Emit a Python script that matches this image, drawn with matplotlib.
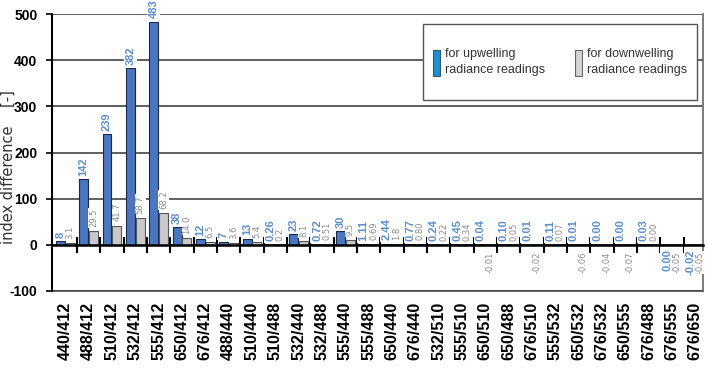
import numpy as np
import matplotlib
matplotlib.use("Agg")
import matplotlib.pyplot as plt
from matplotlib.patches import Patch, Rectangle

# Band ratio pairs on the x axis
categories = ["440/412", "488/412", "510/412", "532/412", "555/412", "650/412",
              "676/412", "488/440", "510/440", "510/488", "532/440", "532/488",
              "555/440", "555/488", "650/440", "676/440", "532/510", "555/510",
              "650/510", "650/488", "676/510", "555/532", "650/532", "676/532",
              "650/555", "676/488", "676/555", "676/650"]

# index difference for upwelling radiance readings
up_vals = [8, 142, 239, 382, 483, 38, 12, 7, 13, 0.26, 23, 0.72, 30, 1.11,
           2.44, 0.77, 0.24, 0.45, 0.04, 0.10, 0.01, 0.11, 0.01, 0.004,
           0.004, 0.03, -0.004, -0.02]
up_labels = ["8", "142", "239", "382", "483", "38", "12", "7", "13", "0.26",
             "23", "0.72", "30", "1.11", "2.44", "0.77", "0.24", "0.45", "0.04",
             "0.10", "0.01", "0.11", "0.01", "0.00", "0.00", "0.03", "0.00",
             "-0.02"]

# index difference for downwelling radiance readings
down_vals = [3.1, 29.5, 41.7, 58.7, 68.2, 14.0, 6.5, 3.6, 5.4, 0.2, 8.1, 0.51,
             9.5, 0.69, 1.8, 0.80, 0.22, 0.34, -0.01, 0.05, -0.02, 0.07, -0.06,
             -0.04, -0.07, 0.004, -0.05, -0.05]
down_labels = ["3.1", "29.5", "41.7", "58.7", "68.2", "14.0", "6.5", "3.6",
               "5.4", "0.2", "8.1", "0.51", "9.5", "0.69", "1.8", "0.80", "0.22",
               "0.34", "-0.01", "0.05", "-0.02", "0.07", "-0.06", "-0.04",
               "-0.07", "0.00", "-0.05", "-0.05"]

yticks = [-100, 0, 100, 200, 300, 400, 500]

font = ["Liberation Sans", "DejaVu Sans"]

up_color = "#4876c2"
up_text = "#5b8fd4"
down_color = "#c9c9c9"
down_text = "#8a8a8a"

fig = plt.figure(figsize=(7.08, 3.70), dpi=100)
ax = fig.add_axes([52 / 708, 79 / 370, 651 / 708, 277 / 370])

x = np.arange(len(categories))
w = 0.38
ax.bar(x - 0.21, up_vals, w, color=up_color, edgecolor="#1c2a4a", linewidth=0.8, zorder=2)
ax.bar(x + 0.21, down_vals, w, color=down_color, edgecolor="#555555", linewidth=0.8, zorder=2)

# value labels, above positive bars and below negative ones
for xi, v, t in zip(x, up_vals, up_labels):
    off = 2.5 if v >= 0 else -3
    ax.annotate(t, (xi - 0.21, v), xytext=(0, off), textcoords="offset points",
                rotation=90, ha="center", va="bottom" if v >= 0 else "top",
                fontsize=8, fontweight="bold", color=up_text, family=font,
                bbox=dict(boxstyle="square,pad=0.15", fc="white", ec="none"), zorder=4)
for xi, v, t in zip(x, down_vals, down_labels):
    off = 3 if v >= 0 else -5
    ax.annotate(t, (xi + 0.21, v), xytext=(0, off), textcoords="offset points",
                rotation=90, ha="center", va="bottom" if v >= 0 else "top",
                fontsize=6, color=down_text, family="DejaVu Sans",
                bbox=dict(boxstyle="square,pad=0.1", fc="white", ec="none"), zorder=4)

ax.set_xlim(-0.57, 27.33)
ax.set_ylim(-100, 500)
ax.set_yticks(yticks)
ax.set_yticklabels([str(t) for t in yticks], fontsize=10, fontweight="bold", family=font)
ax.tick_params(axis="y", direction="out", length=4, width=1.2, pad=6.5)
ax.yaxis.grid(True, color="#444444", linewidth=1.2)
ax.set_axisbelow(True)

# zero line carries the tick marks between the pairs
ax.spines["bottom"].set_position(("data", 0))
ax.spines["bottom"].set_linewidth(1.8)
ax.spines["bottom"].set_color("black")
ax.set_xticks(x[:-1] + 0.5)
ax.tick_params(axis="x", direction="inout", length=11, width=1.5, labelbottom=False)
ax.spines["left"].set_linewidth(1.5)
ax.spines["top"].set_visible(False)
ax.spines["right"].set_color("#666666")
ax.spines["right"].set_linewidth(1.2)

# category names sit at the bottom of the frame
sec = ax.secondary_xaxis("bottom")
sec.set_xticks(x)
sec.set_xticklabels(categories, rotation=90, fontsize=11.5, fontweight="bold", family=font)
sec.tick_params(length=0, pad=8)
sec.spines["bottom"].set_color("#444444")
sec.spines["bottom"].set_linewidth(1.2)

ax.set_ylabel("index difference    [-]", fontsize=10.5, color="#333333", family="DejaVu Sans")
ax.yaxis.set_label_coords(-0.056, 0.449)

# legend box
box = (0.570, 0.69, 0.421, 0.274)
ax.add_patch(Rectangle(box[:2], box[2], box[3], transform=ax.transAxes, fc="white",
                       ec="#555555", lw=1.0, zorder=5, clip_on=False))
handles = [Patch(facecolor="#1f8ed0", edgecolor="#2a5a80", linewidth=0.8),
           Patch(facecolor="#d4d4d4", edgecolor="#666666", linewidth=0.8)]
leg = ax.legend(handles, ["for upwelling\nradiance readings", "for downwelling\nradiance readings"],
                loc="center", bbox_to_anchor=box, ncol=2, handlelength=0.55,
                handleheight=2.8, handletextpad=0.4, columnspacing=2.4, borderpad=0,
                frameon=False, prop={"family": font, "size": 9})
leg.set_zorder(6)
for t in leg.get_texts():
    t.set_color("#333333")
    t.set_linespacing(1.45)

fig.savefig("out.png", dpi=100)
